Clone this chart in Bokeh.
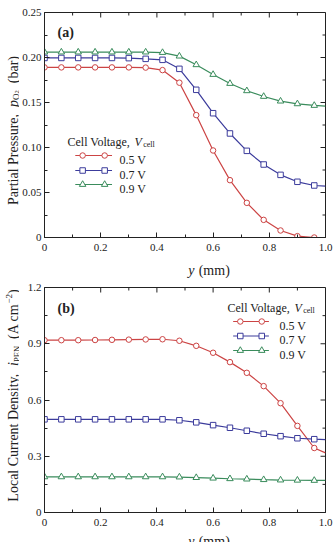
import math
from bokeh.plotting import figure
from bokeh.models import Range1d, FixedTicker, Label
from bokeh.layouts import column, row
from bokeh.embed import file_html
from bokeh.resources import INLINE

# ---------------------------------------------------------------- data
# position along the cathode, y (mm); markers on all but the last point
y_mm = [0.00, 0.06, 0.12, 0.18, 0.24, 0.30, 0.36, 0.42, 0.48,
        0.54, 0.60, 0.66, 0.72, 0.78, 0.84, 0.90, 0.96, 1.00]

# (a) oxygen partial pressure, bar
po2_05 = [0.189, 0.189, 0.189, 0.189, 0.189, 0.189, 0.1888, 0.186, 0.172,
          0.136, 0.0967, 0.0637, 0.0385, 0.0196, 0.0078, 0.0015, 0.0, 0.0]
po2_07 = [0.1995, 0.1995, 0.1995, 0.1995, 0.1995, 0.1993, 0.1985, 0.1974, 0.1874,
          0.1641, 0.1381, 0.1156, 0.0963, 0.0811, 0.0696, 0.0619, 0.0578, 0.057]
po2_09 = [0.206, 0.206, 0.206, 0.206, 0.206, 0.206, 0.206, 0.2055, 0.2015,
          0.1919, 0.1811, 0.1711, 0.163, 0.1567, 0.1515, 0.1485, 0.1467, 0.146]

# (b) local current density, A cm^-2
ipen_05 = [0.919, 0.919, 0.919, 0.920, 0.921, 0.922, 0.923, 0.924, 0.916,
           0.889, 0.852, 0.802, 0.745, 0.674, 0.583, 0.462, 0.344, 0.318]
ipen_07 = [0.497, 0.497, 0.497, 0.497, 0.497, 0.497, 0.497, 0.497, 0.492,
           0.481, 0.466, 0.452, 0.436, 0.420, 0.407, 0.396, 0.391, 0.389]
ipen_09 = [0.190, 0.190, 0.190, 0.190, 0.190, 0.190, 0.190, 0.190, 0.189,
           0.186, 0.183, 0.180, 0.178, 0.175, 0.173, 0.172, 0.171, 0.171]

voltages = ["0.5 V", "0.7 V", "0.9 V"]

x_ticks = [0, 0.2, 0.4, 0.6, 0.8, 1.0]
x_tick_labels = ["0", "0.2", "0.4", "0.6", "0.8", "1.0"]
x_minor = [0.1, 0.3, 0.5, 0.7, 0.9]

ya_ticks = [0, 0.05, 0.10, 0.15, 0.20, 0.25]
ya_tick_labels = ["0", "0.05", "0.10", "0.15", "0.20", "0.25"]
ya_minor = [0.025, 0.075, 0.125, 0.175, 0.225]

yb_ticks = [0, 0.3, 0.6, 0.9, 1.2]
yb_tick_labels = ["0", "0.3", "0.6", "0.9", "1.2"]
yb_minor = [0.15, 0.45, 0.75, 1.05]

# ---------------------------------------------------------------- style
FONT = "Liberation Serif"
INK = "#222222"
COLORS = ["#cc4444", "#3c3c9c", "#3a8c5c"]
MARKERS = ["circle", "square", "triangle"]
MSIZE = [5.5, 5.5, 6.5]

STRIP_W = 19                 # strip on the left holding the y-axis titles
MAIN_W = 333 - STRIP_W
FRAME_W, FRAME_H = 283, 225
LEFT, RIGHT = 23, 8
TICK_MAJOR, TICK_MINOR = 5, 3

# approximate Times advance widths (1/1000 em) for laying out rich labels
WIDTHS = {" ": 250, "(": 333, ")": 333, ",": 250, ".": 250, "\u2212": 564,
          "0": 500, "2": 500, "5": 500, "7": 500, "9": 500,
          "A": 722, "C": 667, "D": 722, "E": 611, "L": 611, "N": 722,
          "O": 722, "P": 556, "V": 722,
          "a": 444, "b": 500, "c": 444, "e": 444, "g": 500, "i": 278,
          "l": 278, "m": 778, "n": 500, "o": 500, "p": 500, "r": 333,
          "s": 389, "t": 278, "u": 500, "y": 500}


def text_width(s, size):
    return sum(WIDTHS.get(ch, 500) for ch in s) * size / 1000.0


def rich_label(p, pieces, x, y, vertical=False, center=False,
               baseline="alphabetic"):
    """pieces: (text, size_px, style, baseline_shift_px) laid out in a run.
    Leading/trailing blanks only advance the pen, since SVG drops them."""
    total = sum(text_width(t, s) for t, s, _, _ in pieces)
    pos = (y if vertical else x) - (total / 2 if center else 0)
    for t, s, style, shift in pieces:
        lead = len(t) - len(t.lstrip(" "))
        start = pos + text_width(" " * lead, s)
        if vertical:
            lbl = Label(x=x - shift, y=start, angle=math.pi / 2)
        else:
            lbl = Label(x=start, y=y + shift)
        lbl.x_units = "screen"
        lbl.y_units = "screen"
        lbl.text = t.strip(" ")
        lbl.text_font = FONT
        lbl.text_font_size = f"{s}px"
        lbl.text_font_style = style
        lbl.text_color = INK
        lbl.text_align = "left"
        lbl.text_baseline = baseline
        p.add_layout(lbl)
        pos += text_width(t, s)


def strip(width, height):
    """Blank canvas whose frame fills it, used for axis titles."""
    s = figure(width=width, height=height, x_range=Range1d(0, 1),
               y_range=Range1d(0, 1), x_axis_type=None, y_axis_type=None,
               output_backend="svg", toolbar_location=None, min_border=0)
    s.outline_line_color = None
    s.background_fill_color = "white"
    s.border_fill_color = "white"
    s.xgrid.visible = False
    s.ygrid.visible = False
    return s


def style_axis(ax, ticks, minor, labels, standoff):
    ax.ticker = FixedTicker(ticks=ticks, minor_ticks=minor)
    ax.major_tick_in = TICK_MAJOR
    ax.major_tick_out = 0
    ax.minor_tick_in = TICK_MINOR
    ax.minor_tick_out = 0
    ax.axis_line_color = INK
    ax.major_tick_line_color = INK
    ax.minor_tick_line_color = INK
    ax.major_label_overrides = dict(zip(ticks, labels))
    ax.major_label_text_font = FONT
    ax.major_label_text_font_size = "11px"
    ax.major_label_text_color = INK
    ax.major_label_standoff = standoff


def mirror_ticks(p, ymax, y_ticks, y_minor):
    """Inward ticks along the top and right edges of the frame."""
    for ticks, length in ((x_ticks, TICK_MAJOR), (x_minor, TICK_MINOR)):
        dy = length / FRAME_H * ymax
        p.segment(x0=ticks, y0=[ymax] * len(ticks), x1=ticks,
                  y1=[ymax - dy] * len(ticks), line_color=INK, line_width=1)
    for ticks, length in ((y_ticks, TICK_MAJOR), (y_minor, TICK_MINOR)):
        dx = length / FRAME_W
        p.segment(x0=[1.0] * len(ticks), y0=ticks, x1=[1.0 - dx] * len(ticks),
                  y1=ticks, line_color=INK, line_width=1)


def make_panel(top, bottom, ymax, y_ticks, y_minor, y_labels):
    p = figure(width=MAIN_W, height=top + FRAME_H + bottom,
               x_range=Range1d(0, 1.0), y_range=Range1d(0, ymax),
               output_backend="svg", toolbar_location=None,
               min_border_left=LEFT, min_border_right=RIGHT,
               min_border_top=top, min_border_bottom=bottom)
    p.xgrid.visible = False
    p.ygrid.visible = False
    p.outline_line_color = INK
    p.background_fill_color = "white"
    p.border_fill_color = "white"
    style_axis(p.xaxis[0], x_ticks, x_minor, x_tick_labels, 6)
    style_axis(p.yaxis[0], y_ticks, y_minor, y_labels, 3)
    mirror_ticks(p, ymax, y_ticks, y_minor)
    return p


def draw_series(p, series):
    for ys, c, m, ms in zip(series, COLORS, MARKERS, MSIZE):
        p.line(y_mm, ys, line_color=c, line_width=1.2)
        p.scatter(y_mm[:-1], ys[:-1], marker=m, size=ms, line_color=c,
                  fill_color="white", line_width=1)


def draw_legend(p, ymax, title_xy, text_x, line_x0, line_x1, rows_y):
    """Legend box positions are given in frame pixels."""
    rich_label(p, [("Cell Voltage, ", 12, "normal", 0),
                   ("V", 12, "italic", 0),
                   ("cell", 8, "normal", -3)], *title_xy)
    for name, c, m, ms, ry in zip(voltages, COLORS, MARKERS, MSIZE, rows_y):
        yd = ry / FRAME_H * ymax
        x0, x1 = line_x0 / FRAME_W, line_x1 / FRAME_W
        span = x1 - x0
        p.line([x0, x1], [yd, yd], line_color=c, line_width=1.2)
        p.scatter([x0 + 0.2 * span, x1 - 0.2 * span], [yd, yd], marker=m,
                  size=ms, line_color=c, fill_color="white", line_width=1)
        rich_label(p, [(name, 12, "normal", 0)], text_x, ry - 4)


def x_title(height, y, baseline):
    s = strip(MAIN_W, height)
    rich_label(s, [("y", 14, "italic", 0), (" (mm)", 14, "normal", 0)],
               LEFT + FRAME_W / 2, y, center=True, baseline=baseline)
    return s


# ---------------------------------------------------------------- (a)
pa = make_panel(12, 19, 0.25, ya_ticks, ya_minor, ya_tick_labels)
draw_series(pa, [po2_05, po2_07, po2_09])
draw_legend(pa, 0.25, (23, 96), 75, 31, 68, [82, 67, 53])
rich_label(pa, [("(a)", 14, "bold", 0)], 13, 205)
xa = x_title(22, 8.5, "alphabetic")

# ---------------------------------------------------------------- (b)
pb = make_panel(9, 19, 1.2, yb_ticks, yb_minor, yb_tick_labels)
draw_series(pb, [ipen_05, ipen_07, ipen_09])
draw_legend(pb, 1.2, (183, 205), 235, 190, 226, [191, 176.5, 162])
rich_label(pb, [("(b)", 14, "bold", 0)], 13, 204)
xb = x_title(11, 2.2, "middle")

# ---------------------------------------------------------------- y titles
ys = strip(STRIP_W, 542)
rich_label(ys, [("Partial Pressure,  ", 14, "normal", 0),
                ("p", 14, "italic", 0),
                ("O", 9, "normal", -2.5),
                ("2", 6.5, "normal", -3.5),
                ("  (bar)", 14, "normal", 0)], 13.4, 542 - 130,
           vertical=True, center=True)
rich_label(ys, [("Local Current Density,  ", 14, "normal", 0),
                ("i", 14, "italic", 0),
                ("PEN", 8.5, "normal", -2.8),
                ("  (A cm", 14, "normal", 0),
                ("\u22122", 9, "normal", 4.5),
                (")", 14, "normal", 0)], 13.4, 542 - 395,
           vertical=True, center=True)

layout = row(ys, column(pa, xa, pb, xb, spacing=0), spacing=0)
open("out.html", "w").write(file_html(layout, INLINE))
